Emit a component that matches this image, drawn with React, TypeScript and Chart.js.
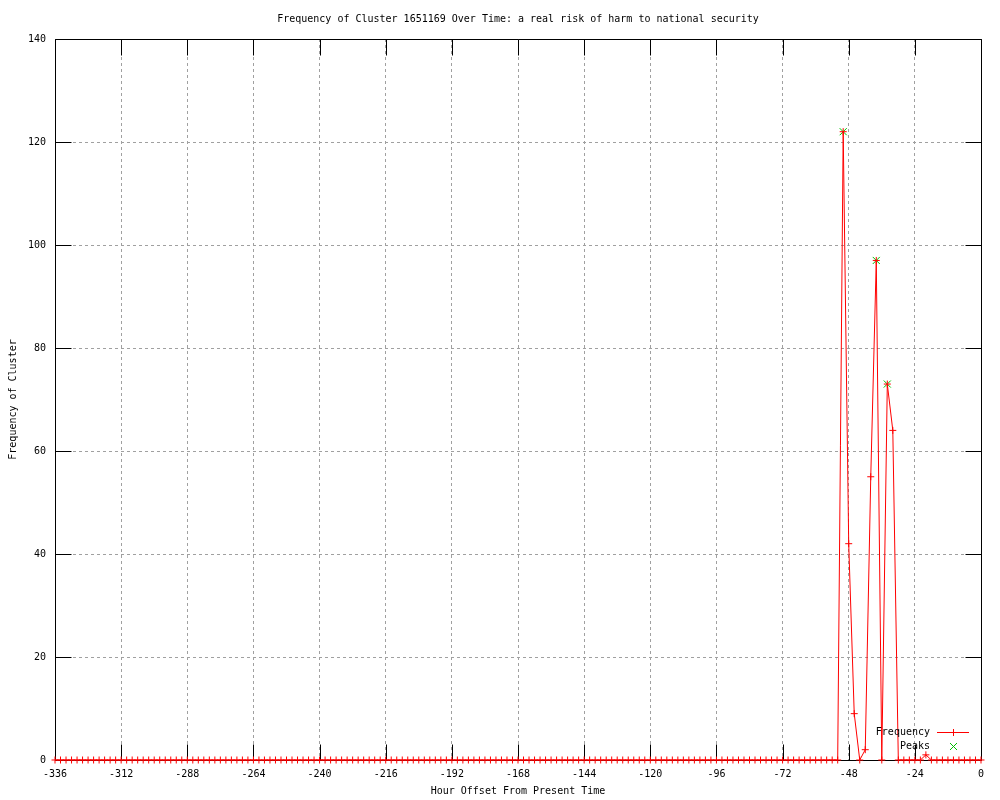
import { useEffect, useRef } from "react";
import { Chart, registerables } from "chart.js";

Chart.register(...registerables);

const FONT = "'DejaVu Sans Mono', 'Liberation Mono', monospace";

const chartTitle = "Frequency of Cluster 1651169 Over Time: a real risk of harm to national security";
const xAxisTitle = "Hour Offset From Present Time";
const yAxisTitle = "Frequency of Cluster";

const hours = [
  -336, -334, -332, -330, -328, -326, -324, -322, -320, -318, -316, -314,
  -312, -310, -308, -306, -304, -302, -300, -298, -296, -294, -292, -290,
  -288, -286, -284, -282, -280, -278, -276, -274, -272, -270, -268, -266,
  -264, -262, -260, -258, -256, -254, -252, -250, -248, -246, -244, -242,
  -240, -238, -236, -234, -232, -230, -228, -226, -224, -222, -220, -218,
  -216, -214, -212, -210, -208, -206, -204, -202, -200, -198, -196, -194,
  -192, -190, -188, -186, -184, -182, -180, -178, -176, -174, -172, -170,
  -168, -166, -164, -162, -160, -158, -156, -154, -152, -150, -148, -146,
  -144, -142, -140, -138, -136, -134, -132, -130, -128, -126, -124, -122,
  -120, -118, -116, -114, -112, -110, -108, -106, -104, -102, -100, -98,
  -96, -94, -92, -90, -88, -86, -84, -82, -80, -78, -76, -74,
  -72, -70, -68, -66, -64, -62, -60, -58, -56, -54, -52, -50,
  -48, -46, -44, -42, -40, -38, -36, -34, -32, -30, -28, -26,
  -24, -22, -20, -18, -16, -14, -12, -10, -8, -6, -4, -2,
  0,
];

const frequency = [
  0, 0, 0, 0, 0, 0, 0, 0, 0, 0, 0, 0,
  0, 0, 0, 0, 0, 0, 0, 0, 0, 0, 0, 0,
  0, 0, 0, 0, 0, 0, 0, 0, 0, 0, 0, 0,
  0, 0, 0, 0, 0, 0, 0, 0, 0, 0, 0, 0,
  0, 0, 0, 0, 0, 0, 0, 0, 0, 0, 0, 0,
  0, 0, 0, 0, 0, 0, 0, 0, 0, 0, 0, 0,
  0, 0, 0, 0, 0, 0, 0, 0, 0, 0, 0, 0,
  0, 0, 0, 0, 0, 0, 0, 0, 0, 0, 0, 0,
  0, 0, 0, 0, 0, 0, 0, 0, 0, 0, 0, 0,
  0, 0, 0, 0, 0, 0, 0, 0, 0, 0, 0, 0,
  0, 0, 0, 0, 0, 0, 0, 0, 0, 0, 0, 0,
  0, 0, 0, 0, 0, 0, 0, 0, 0, 0, 0, 122,
  42, 9, 0, 2, 55, 97, 0, 73, 64, 0, 0, 0,
  0, 0, 1, 0, 0, 0, 0, 0, 0, 0, 0, 0,
  0,
];

const peakHours = [-50, -38, -34];
const peakValues = [122, 97, 73];

const xTickValues = [-336, -312, -288, -264, -240, -216, -192, -168, -144, -120, -96, -72, -48, -24, 0];
const yTickValues = [0, 20, 40, 60, 80, 100, 120, 140];

const RED = "#ff0000";
const GREEN = "#00c000";

function drawMarker(ctx: CanvasRenderingContext2D, style: string, x: number, y: number, r: number) {
  ctx.beginPath();
  if (style === "cross") {
    ctx.moveTo(x - r, y);
    ctx.lineTo(x + r, y);
    ctx.moveTo(x, y - r);
    ctx.lineTo(x, y + r);
  } else {
    ctx.moveTo(x - r, y - r);
    ctx.lineTo(x + r, y + r);
    ctx.moveTo(x - r, y + r);
    ctx.lineTo(x + r, y - r);
  }
  ctx.stroke();
}

const framePlugin = {
  id: "gnuplotFrame",
  beforeDatasetsDraw(chart: any) {
    const { ctx, chartArea, scales } = chart;
    const L = Math.round(chartArea.left) + 0.5;
    const R = Math.round(chartArea.right) + 0.5;
    const T = Math.round(chartArea.top) + 0.5;
    const B = Math.round(chartArea.bottom) + 0.5;
    ctx.save();
    ctx.strokeStyle = "#000";
    ctx.lineWidth = 1;
    ctx.setLineDash([]);
    ctx.beginPath();
    ctx.rect(L, T, R - L, B - T);
    const tl = 16;
    scales.x.ticks.forEach((t: any) => {
      const px = Math.round(scales.x.getPixelForValue(t.value)) + 0.5;
      ctx.moveTo(px, B);
      ctx.lineTo(px, B - tl);
      ctx.moveTo(px, T);
      ctx.lineTo(px, T + tl);
    });
    scales.y.ticks.forEach((t: any) => {
      const py = Math.round(scales.y.getPixelForValue(t.value)) + 0.5;
      ctx.moveTo(L, py);
      ctx.lineTo(L + tl, py);
      ctx.moveTo(R, py);
      ctx.lineTo(R - tl, py);
    });
    ctx.stroke();
    ctx.restore();
  },
};

const legendColors = [RED, GREEN];

const legendPlugin = {
  id: "gnuplotLegend",
  afterDraw(chart: any) {
    const { ctx, chartArea } = chart;
    ctx.save();
    ctx.font = `10px ${FONT}`;
    ctx.textAlign = "right";
    ctx.textBaseline = "middle";
    ctx.lineWidth = 1;
    ctx.setLineDash([]);
    chart.data.datasets.forEach((ds: any, i: number) => {
      const y = Math.round(chartArea.bottom) - 28 + i * 14;
      const textX = Math.round(chartArea.right) - 51;
      ctx.fillStyle = "#000";
      ctx.fillText(ds.label, textX, y);
      const cx = Math.round(chartArea.right) - 28 + 0.5;
      const cy = y + 0.5;
      ctx.strokeStyle = legendColors[i];
      if (ds.showLine !== false) {
        ctx.beginPath();
        ctx.moveTo(Math.round(chartArea.right) - 44, cy);
        ctx.lineTo(Math.round(chartArea.right) - 12, cy);
        ctx.stroke();
      }
      drawMarker(ctx, ds.pointStyle, cx, cy, 3.5);
    });
    ctx.restore();
  },
};

export default function App() {
  const canvasRef = useRef<HTMLCanvasElement | null>(null);

  useEffect(() => {
    if (!canvasRef.current) return;
    const font = { family: FONT, size: 10 };
    const chart = new Chart(canvasRef.current, {
      type: "line",
      data: {
        datasets: [
          {
            label: "Frequency",
            data: hours.map((h, i) => ({ x: h, y: frequency[i] })),
            borderColor: RED,
            borderWidth: 1,
            pointStyle: "cross",
            pointRadius: 3.5,
            pointBorderColor: RED,
            pointBorderWidth: 1,
            pointBackgroundColor: RED,
            tension: 0,
            fill: false,
            clip: false,
          },
          {
            label: "Peaks",
            data: peakHours.map((h, i) => ({ x: h, y: peakValues[i] })),
            showLine: false,
            borderColor: GREEN,
            pointStyle: "crossRot",
            pointRadius: 5,
            pointBorderColor: GREEN,
            pointBorderWidth: 1,
            pointBackgroundColor: GREEN,
            clip: false,
          },
        ],
      },
      options: {
        animation: false,
        responsive: false,
        devicePixelRatio: 1,
        layout: { padding: { left: 0, right: 19, top: 0, bottom: 0 } },
        plugins: {
          legend: { display: false },
          title: { display: false },
          tooltip: { enabled: false },
        },
        scales: {
          x: {
            type: "linear",
            position: "bottom",
            min: -336,
            max: 0,
            afterBuildTicks: (s: any) => {
              s.ticks = xTickValues.map((v) => ({ value: v }));
            },
            afterFit: (s: any) => {
              s.height = 40;
            },
            grid: { color: "#a0a0a0", lineWidth: 1, drawTicks: false },
            border: { display: false, dash: [3, 3] },
            ticks: { font, color: "#000", padding: 8, maxRotation: 0, autoSkip: false },
            title: { display: true, text: xAxisTitle, font, color: "#000", padding: { top: 0, bottom: 3 } },
          },
          x2: {
            type: "linear",
            position: "top",
            min: -336,
            max: 0,
            afterFit: (s: any) => {
              s.height = 39;
            },
            grid: { display: false, drawTicks: false },
            border: { display: false },
            ticks: { display: false },
            title: { display: true, text: chartTitle, font, color: "#000", padding: { top: 13, bottom: 0 } },
          },
          y: {
            type: "linear",
            position: "left",
            min: 0,
            max: 140,
            afterBuildTicks: (s: any) => {
              s.ticks = yTickValues.map((v) => ({ value: v }));
            },
            afterFit: (s: any) => {
              s.width = 55;
            },
            grid: { color: "#a0a0a0", lineWidth: 1, drawTicks: false },
            border: { display: false, dash: [3, 3] },
            ticks: { font, color: "#000", padding: 9 },
            title: { display: true, text: yAxisTitle, font, color: "#000", padding: { top: 7, bottom: 0 } },
          },
        },
      },
      plugins: [framePlugin, legendPlugin],
    } as any);
    return () => chart.destroy();
  }, []);

  return (
    <div style={{ position: "absolute", left: 0, top: 0, width: 1000, height: 800, background: "#fff" }}>
      <canvas ref={canvasRef} width={1000} height={800} style={{ display: "block" }} />
    </div>
  );
}
